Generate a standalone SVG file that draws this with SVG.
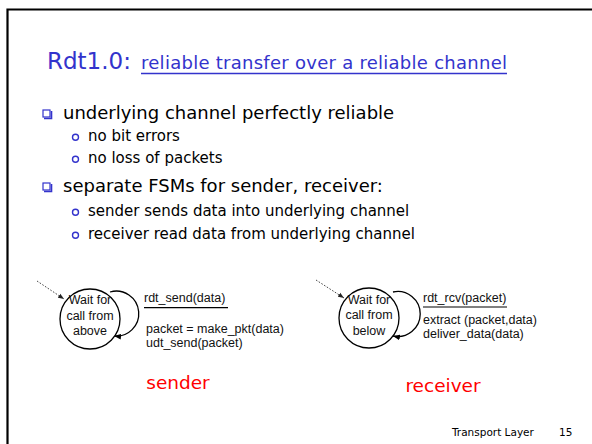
<svg xmlns="http://www.w3.org/2000/svg" width="592" height="444" viewBox="0 0 592 444">
  <defs>
    <style>
      .slide { font-family: "DejaVu Sans", "Open Sans", sans-serif; }
      .title { fill: #3333cc; font-size: 23px; }
      .subtitle { fill: #3333cc; font-size: 18px; }
      .l1 { fill: #000; font-size: 18px; }
      .l2 { fill: #000; font-size: 15px; }
      .role { fill: #ff0000; font-size: 18.5px; }
      .footer { fill: #000; font-size: 10.5px; }
      .fsm { font-family: "Liberation Sans", Arial, sans-serif; font-size: 12.5px; fill: #111; }
      .state { fill: #fff; stroke: #000; stroke-width: 1.3; }
      .loop { fill: none; stroke: #000; stroke-width: 1.3; }
      .init { fill: none; stroke: #333; stroke-width: 0.9; stroke-dasharray: 1.6 1.6; }
      .sq { fill: #fff; stroke: #3333cc; stroke-width: 1.2; }
      .sqshadow { fill: none; stroke: #3333cc; stroke-width: 1.6; }
      .dot { fill: #fff; stroke: #3333cc; stroke-width: 1.4; }
      .rule { stroke: #000; stroke-width: 1.2; }
    </style>
    <marker id="head" viewBox="0 0 10 10" refX="10" refY="5" markerWidth="7" markerHeight="7" markerUnits="userSpaceOnUse" orient="auto">
      <path d="M0,1 L10,5 L0,9 z" fill="#000"/>
    </marker>
    <marker id="head-small" viewBox="0 0 10 10" refX="10" refY="5" markerWidth="6" markerHeight="6" markerUnits="userSpaceOnUse" orient="auto">
      <path d="M0,1 L10,5 L0,9 z" fill="#222"/>
    </marker>
  </defs>

  <rect width="592" height="444" fill="#fff"/>

  <!-- slide frame: top and left edges -->
  <path d="M7.5,444 V9.5 H592" fill="none" stroke="#000" stroke-width="2.2"/>

  <!-- heading -->
  <g id="heading" class="slide">
    <text class="title" x="47" y="69">Rdt1.0:</text>
    <text class="subtitle" x="141" y="69" textLength="366" lengthAdjust="spacing">reliable transfer over a reliable channel</text>
    <line x1="141" y1="73.5" x2="507" y2="73.5" stroke="#3333cc" stroke-width="1.7"/>
  </g>

  <!-- bullet list -->
  <g id="bullets" class="slide">
    <rect class="sq" x="43" y="110" width="7" height="7"/>
    <polyline class="sqshadow" points="51.5,111 51.5,118.5 44,118.5"/>
    <text class="l1" x="63" y="119">underlying channel perfectly reliable</text>

    <circle class="dot" cx="75.5" cy="137.3" r="3"/>
    <text class="l2" x="88" y="141">no bit errors</text>
    <circle class="dot" cx="75.5" cy="159.3" r="3"/>
    <text class="l2" x="88" y="163">no loss of packets</text>

    <rect class="sq" x="43" y="183" width="7" height="7"/>
    <polyline class="sqshadow" points="51.5,184 51.5,191.5 44,191.5"/>
    <text class="l1" x="63" y="192">separate FSMs for sender, receiver:</text>

    <circle class="dot" cx="75.5" cy="212.3" r="3"/>
    <text class="l2" x="88" y="216">sender sends data into underlying channel</text>
    <circle class="dot" cx="75.5" cy="235.3" r="3"/>
    <text class="l2" x="88" y="239">receiver read data from underlying channel</text>
  </g>

  <!-- transitions and initial-state arrows -->
  <g id="connectors">
    <path class="init" d="M37,281 L64,299" marker-end="url(#head-small)"/>
    <path class="loop" d="M110,292 A22.5,22.5 0 1 1 114,336" marker-end="url(#head)"/>
    <path class="init" d="M316,280 L344,298" marker-end="url(#head-small)"/>
    <path class="loop" d="M393,292 A22.5,22.5 0 1 1 393,336" marker-end="url(#head)"/>
  </g>

  <!-- sender state -->
  <g id="sender-state" class="fsm">
    <circle class="state" cx="90" cy="319" r="30"/>
    <text x="90" y="304" text-anchor="middle">Wait for</text>
    <text x="90" y="320" text-anchor="middle">call from</text>
    <text x="90" y="335" text-anchor="middle">above</text>
  </g>

  <!-- sender transition label -->
  <g id="sender-action" class="fsm">
    <text x="144" y="302">rdt_send(data)</text>
    <line class="rule" x1="144" y1="307.7" x2="228" y2="307.7"/>
    <text x="146" y="333">packet = make_pkt(data)</text>
    <text x="146" y="346.5">udt_send(packet)</text>
  </g>

  <!-- receiver state -->
  <g id="receiver-state" class="fsm">
    <circle class="state" cx="369" cy="318" r="30"/>
    <text x="369" y="303.5" text-anchor="middle">Wait for</text>
    <text x="369" y="319" text-anchor="middle">call from</text>
    <text x="369" y="334.5" text-anchor="middle">below</text>
  </g>

  <!-- receiver transition label -->
  <g id="receiver-action" class="fsm">
    <text x="423" y="302">rdt_rcv(packet)</text>
    <line class="rule" x1="423" y1="307" x2="507" y2="307"/>
    <text x="423" y="324">extract (packet,data)</text>
    <text x="423" y="337.5">deliver_data(data)</text>
  </g>

  <!-- role captions -->
  <g id="captions" class="slide">
    <text class="role" x="178" y="389" text-anchor="middle">sender</text>
    <text class="role" x="443" y="392" text-anchor="middle">receiver</text>
  </g>

  <!-- footer -->
  <g id="footer" class="slide">
    <text class="footer" x="452" y="436">Transport Layer</text>
    <text class="footer" x="559" y="436">15</text>
  </g>
</svg>
